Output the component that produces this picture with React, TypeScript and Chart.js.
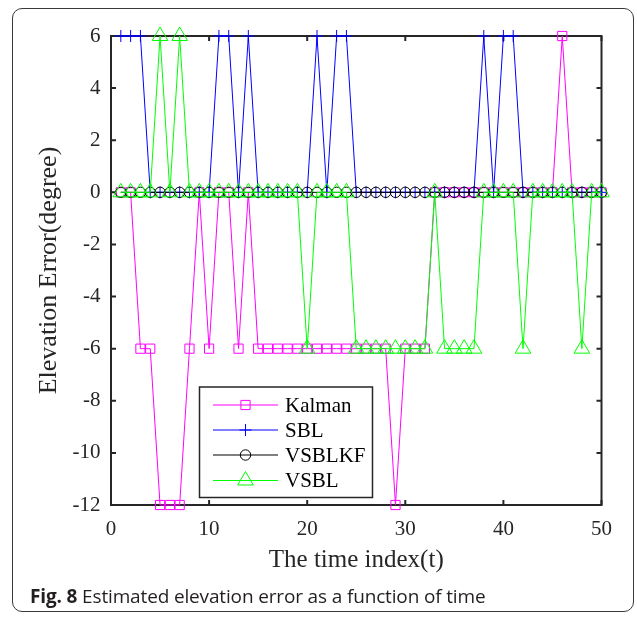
import React, { useEffect, useRef } from "react";
import { Chart, registerables } from "chart.js";

Chart.register(...registerables);

const timeIndex = [
  1, 2, 3, 4, 5, 6, 7, 8, 9, 10, 11, 12, 13, 14, 15, 16, 17, 18, 19, 20, 21, 22, 23, 24, 25,
  26, 27, 28, 29, 30, 31, 32, 33, 34, 35, 36, 37, 38, 39, 40, 41, 42, 43, 44, 45, 46, 47, 48, 49, 50,
];

const kalman = [
  0, 0, -6, -6, -12, -12, -12, -6, 0, -6, 0, 0, -6, 0, -6, -6, -6, -6, -6, -6, -6, -6, -6, -6, -6,
  -6, -6, -6, -12, -6, -6, -6, 0, 0, 0, 0, 0, 0, 0, 0, 0, 0, 0, 0, 0, 6, 0, 0, 0, 0,
];

const sbl = [
  6, 6, 6, 0, 0, 0, 0, 0, 0, 0, 6, 6, 0, 6, 0, 0, 0, 0, 0, 0, 6, 0, 6, 6, 0,
  0, 0, 0, 0, 0, 0, 0, 0, 0, 0, 0, 0, 6, 0, 6, 6, 0, 0, 0, 0, 0, 0, 0, 0, 0,
];

const vsblkf = [
  0, 0, 0, 0, 0, 0, 0, 0, 0, 0, 0, 0, 0, 0, 0, 0, 0, 0, 0, 0, 0, 0, 0, 0, 0,
  0, 0, 0, 0, 0, 0, 0, 0, 0, 0, 0, 0, 0, 0, 0, 0, 0, 0, 0, 0, 0, 0, 0, 0, 0,
];

const vsbl = [
  0, 0, 0, 0, 6, 0, 6, 0, 0, 0, 0, 0, 0, 0, 0, 0, 0, 0, 0, -6, 0, 0, 0, 0, -6,
  -6, -6, -6, -6, -6, -6, -6, 0, -6, -6, -6, -6, 0, 0, 0, 0, -6, 0, 0, 0, 0, 0, -6, 0, 0,
];

const seriesNames = ["Kalman", "SBL", "VSBLKF", "VSBL"];
const seriesColors = ["#ff00ff", "#0000ff", "#000000", "#00ff00"];
const seriesMarkers = ["rect", "cross", "circle", "triangle"];
const seriesRadius = [6.5, 6, 5.2, 9];

const xTitle = "The time index(t)";
const yTitle = "Elevation Error(degree)";
const caption = "Estimated elevation error as a function of time";

const SERIF = "'Liberation Serif', 'Times New Roman', serif";
const AXIS_COLOR = "#262626";

function drawMarker(ctx: CanvasRenderingContext2D, style: string, x: number, y: number, r: number) {
  ctx.beginPath();
  if (style === "rect") {
    const s = Math.SQRT1_2 * r;
    ctx.rect(x - s, y - s, 2 * s, 2 * s);
  } else if (style === "cross") {
    ctx.moveTo(x - r, y);
    ctx.lineTo(x + r, y);
    ctx.moveTo(x, y - r);
    ctx.lineTo(x, y + r);
  } else if (style === "circle") {
    ctx.arc(x, y, r, 0, Math.PI * 2);
  } else if (style === "triangle") {
    const w = Math.sin(Math.PI / 3) * r;
    ctx.moveTo(x, y - r);
    ctx.lineTo(x + w, y + r / 2);
    ctx.lineTo(x - w, y + r / 2);
    ctx.closePath();
  }
  ctx.stroke();
}

const framePlugin = {
  id: "frameTicks",
  beforeDatasetsDraw(chart: any) {
    const { ctx, chartArea, scales } = chart;
    const { left, right, top, bottom } = chartArea;
    const xs = scales.x;
    const ys = scales.y;
    ctx.save();
    ctx.strokeStyle = AXIS_COLOR;
    ctx.lineWidth = 2;
    ctx.strokeRect(left, top, right - left, bottom - top);
    const tl = 5;
    ctx.beginPath();
    xs.ticks.forEach((t: any) => {
      const px = xs.getPixelForValue(t.value);
      ctx.moveTo(px, bottom);
      ctx.lineTo(px, bottom - tl);
      ctx.moveTo(px, top);
      ctx.lineTo(px, top + tl);
    });
    ys.ticks.forEach((t: any) => {
      const py = ys.getPixelForValue(t.value);
      ctx.moveTo(left, py);
      ctx.lineTo(left + tl, py);
      ctx.moveTo(right, py);
      ctx.lineTo(right - tl, py);
    });
    ctx.stroke();
    ctx.restore();
  },
};

const legendPlugin = {
  id: "insideLegend",
  afterDatasetsDraw(chart: any) {
    const { ctx } = chart;
    const bx = 199.5;
    const by = 387;
    const bw = 173;
    const bh = 110.5;
    ctx.save();
    ctx.fillStyle = "#ffffff";
    ctx.fillRect(bx, by, bw, bh);
    ctx.strokeStyle = AXIS_COLOR;
    ctx.lineWidth = 1.5;
    ctx.strokeRect(bx, by, bw, bh);
    const rowY = [405, 430, 455, 480.5];
    chart.data.datasets.forEach((ds: any, i: number) => {
      const y = rowY[i];
      ctx.strokeStyle = ds.borderColor;
      ctx.lineWidth = 1;
      ctx.beginPath();
      ctx.moveTo(213, y);
      ctx.lineTo(278, y);
      ctx.stroke();
      drawMarker(ctx, ds.pointStyle, 245.5, y, ds.pointRadius);
      ctx.fillStyle = "#000000";
      ctx.font = `21px ${SERIF}`;
      ctx.textAlign = "left";
      ctx.textBaseline = "middle";
      ctx.fillText(ds.label, 285, y + 1);
    });
    ctx.restore();
  },
};

export default function App() {
  const canvasRef = useRef<HTMLCanvasElement | null>(null);

  useEffect(() => {
    if (!canvasRef.current) return;
    const allSeries = [kalman, sbl, vsblkf, vsbl];
    const datasets = allSeries.map((values, i) => ({
      label: seriesNames[i],
      data: timeIndex.map((t, j) => ({ x: t, y: values[j] })),
      borderColor: seriesColors[i],
      backgroundColor: "rgba(0,0,0,0)",
      pointBorderColor: seriesColors[i],
      pointBackgroundColor: "rgba(0,0,0,0)",
      pointStyle: seriesMarkers[i],
      pointRadius: seriesRadius[i],
      pointBorderWidth: 1,
      borderWidth: 1,
      tension: 0,
      fill: false,
      clip: false as any,
      order: allSeries.length - i,
    }));

    const chart = new Chart(canvasRef.current, {
      type: "line",
      data: { datasets },
      options: {
        animation: false,
        responsive: false,
        devicePixelRatio: 1,
        layout: { padding: { left: 0, right: 35.5, top: 36, bottom: 0 } },
        plugins: {
          legend: { display: false },
          tooltip: { enabled: false },
        },
        scales: {
          x: {
            type: "linear",
            min: 0,
            max: 50,
            border: { display: false },
            grid: { display: false, drawTicks: false },
            ticks: {
              stepSize: 10,
              padding: 12,
              color: AXIS_COLOR,
              font: { family: SERIF, size: 21 },
              maxRotation: 0,
            },
            title: {
              display: true,
              text: xTitle,
              color: AXIS_COLOR,
              font: { family: SERIF, size: 25 },
              padding: { top: 0, bottom: 43 },
            },
            afterFit: (scale: any) => {
              scale.height = 113;
            },
          },
          y: {
            type: "linear",
            min: -12,
            max: 6,
            border: { display: false },
            grid: { display: false, drawTicks: false },
            ticks: {
              stepSize: 2,
              padding: 10.5,
              color: AXIS_COLOR,
              font: { family: SERIF, size: 21 },
            },
            title: {
              display: true,
              text: yTitle,
              color: AXIS_COLOR,
              font: { family: SERIF, size: 26 },
              padding: { top: 34, bottom: 0 },
            },
            afterFit: (scale: any) => {
              scale.width = 111;
            },
          },
        },
      },
      plugins: [framePlugin, legendPlugin],
    });
    return () => chart.destroy();
  }, []);

  return (
    <div style={{ position: "absolute", left: 0, top: 0, width: 637, height: 618, background: "#ffffff", overflow: "hidden" }}>
      <div
        style={{
          position: "absolute",
          left: 12,
          top: 8,
          width: 622,
          height: 604,
          border: "1px solid #3a3a3a",
          borderRadius: 10,
          boxSizing: "border-box",
        }}
      />
      <canvas ref={canvasRef} width={637} height={618} style={{ position: "absolute", left: 0, top: 0, display: "block" }} />
      <div
        style={{
          position: "absolute",
          left: 30,
          top: 584,
          fontFamily: "'Open Sans', sans-serif",
          fontSize: 19,
          letterSpacing: "-0.15px",
          lineHeight: "24px",
          color: "#231f20",
          whiteSpace: "nowrap",
        }}
      >
        <b>Fig. 8</b> {caption}
      </div>
    </div>
  );
}
